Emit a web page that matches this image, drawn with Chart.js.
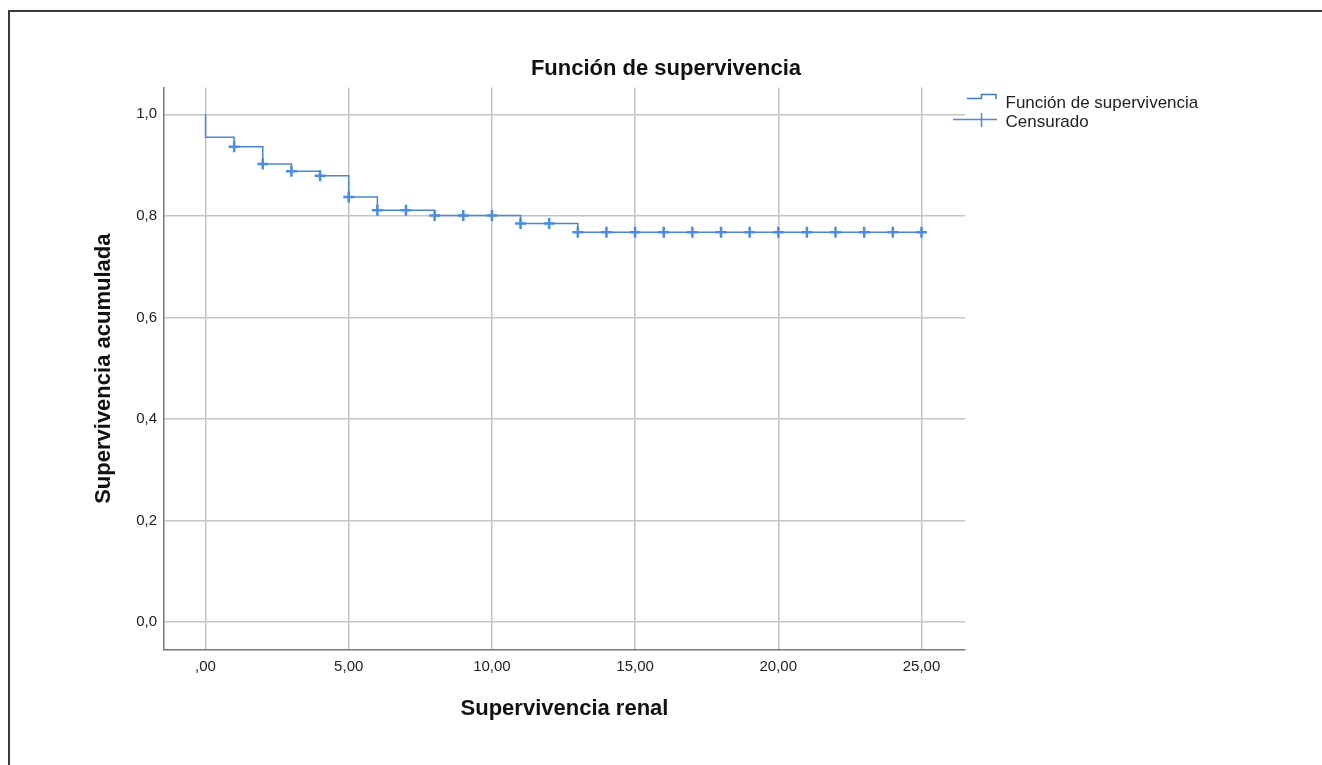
<!DOCTYPE html>
<html>
<head>
<meta charset="utf-8">
<title>Función de supervivencia</title>
<script src="https://cdn.jsdelivr.net/npm/chart.js@4.4.1/dist/chart.umd.min.js"></script>
<style>
  html, body { margin: 0; padding: 0; background: #fff; overflow: hidden; }
  .wrap { position: relative; width: 1322px; height: 765px; }
  .frame { position: absolute; left: 8px; top: 10px; width: 1400px; height: 800px;
           border-left: 2px solid #3a3a3a; border-top: 2px solid #3a3a3a; pointer-events: none; }
</style>
</head>
<body>
<div class="wrap">
  <canvas id="km"></canvas>
  <div class="frame"></div>
</div>
<script>
// Kaplan-Meier steps (time, cumulative survival)
const survTimes = [0, 0, 1, 2, 3, 4, 5, 6, 8, 11, 13, 25];
const survValues = [1.0, 0.955, 0.936, 0.902, 0.888, 0.879, 0.837, 0.811, 0.801, 0.785, 0.768, 0.768];

// censored cases
const censorTimes = [1, 2, 3, 4, 5, 6, 7, 8, 9, 10, 11, 12, 13, 14, 15, 16, 17, 18, 19, 20, 21, 22, 23, 24, 25];
const censorValues = [0.936, 0.902, 0.888, 0.879, 0.837, 0.811, 0.811, 0.801, 0.801, 0.801, 0.785, 0.785,
  0.768, 0.768, 0.768, 0.768, 0.768, 0.768, 0.768, 0.768, 0.768, 0.768, 0.768, 0.768, 0.768];

const xTicks = [0, 5, 10, 15, 20, 25];
const xTickLabels = [',00', '5,00', '10,00', '15,00', '20,00', '25,00'];
const yTicks = [0, 0.2, 0.4, 0.6, 0.8, 1.0];
const yTickLabels = ['0,0', '0,2', '0,4', '0,6', '0,8', '1,0'];

const FONT = "'Liberation Sans', Arial, sans-serif";
const lineColor = '#4a86d0';
const crossColor = '#4a8de0';

// small legend glyphs
let makeIcon = (draw) => {
  const c = document.createElement('canvas');
  c.width = 44;
  c.height = 24;
  draw(c.getContext('2d'));
  return c;
};

const stepIcon = makeIcon(g => {
  g.strokeStyle = '#3f78bf';
  g.lineWidth = 1.5;
  g.beginPath();
  g.moveTo(14, 7.5);
  g.lineTo(28.5, 7.5);
  g.lineTo(28.5, 3.5);
  g.lineTo(43, 3.5);
  g.lineTo(43, 8);
  g.stroke();
});

const crossIcon = makeIcon(g => {
  g.strokeStyle = crossColor;
  g.lineWidth = 1.5;
  g.beginPath();
  g.moveTo(0, 9.5);
  g.lineTo(44, 9.5);
  g.moveTo(28.5, 3);
  g.lineTo(28.5, 17);
  g.stroke();
});

// put the legend just right of the plot area
const placeLegend = {
  id: 'placeLegend',
  afterLayout(chart) {
    const lg = chart.legend;
    const w = lg.width, h = lg.height;
    lg.left = 951;
    lg.top = 92.5;
    lg.right = lg.left + w;
    lg.bottom = lg.top + h;
  }
};

const ctx = document.getElementById('km').getContext('2d');

new Chart(ctx, {
  type: 'scatter',
  data: {
    datasets: [{
      label: 'Censurado',
      data: censorTimes.map((t, i) => ({ x: t, y: censorValues[i] })),
      yAxisID: 'y',
      showLine: false,
      pointStyle: 'cross',
      pointRadius: 5.5,
      pointBorderWidth: 2.5,
      pointBorderColor: crossColor,
      pointBackgroundColor: crossColor,
      pointHoverRadius: 5.5,
    }, {
      label: 'Función de supervivencia',
      data: survTimes.map((t, i) => ({ x: t, y: survValues[i] })),
      yAxisID: 'y',
      showLine: true,
      stepped: 'before',
      borderColor: lineColor,
      borderWidth: 1.5,
      pointRadius: 0,
      pointHoverRadius: 0,
      fill: false,
    }]
  },
  options: {
    responsive: true,
    maintainAspectRatio: false,
    animation: false,
    layout: { padding: { left: 10, right: 0, top: 0, bottom: 39 } },
    plugins: {
      title: {
        display: true,
        text: 'Función de supervivencia',
        color: '#111',
        font: { family: FONT, size: 22, weight: 'bold' },
        padding: { top: 56, bottom: 5 },
      },
      legend: {
        position: 'chartArea',
        align: 'start',
        onClick: null,
        labels: {
          usePointStyle: true,
          pointStyleWidth: 44,
          padding: 2,
          color: '#222',
          font: { family: FONT, size: 17 },
          generateLabels: () => [
            { text: 'Función de supervivencia', pointStyle: stepIcon, datasetIndex: 1, hidden: false,
              lineWidth: 0, fillStyle: 'rgba(0,0,0,0)', strokeStyle: 'rgba(0,0,0,0)', fontColor: '#222' },
            { text: 'Censurado', pointStyle: crossIcon, datasetIndex: 0, hidden: false,
              lineWidth: 0, fillStyle: 'rgba(0,0,0,0)', strokeStyle: 'rgba(0,0,0,0)', fontColor: '#222' },
          ],
        },
      },
      tooltip: { enabled: false },
    },
    scales: {
      x: {
        type: 'linear',
        position: 'bottom',
        min: -1.45,
        max: 26.52,
        afterBuildTicks: s => { s.ticks = xTicks.map(v => ({ value: v })); },
        afterFit: s => { s.height = 76; },
        ticks: {
          callback: (v, i) => xTickLabels[i],
          color: '#222',
          font: { family: FONT, size: 15 },
          padding: 8,
          autoSkip: false,
          maxRotation: 0,
        },
        grid: { color: '#c4c4c4', lineWidth: 1.5, drawTicks: false },
        border: { display: true, color: '#7a7a7a', width: 1.5 },
        title: {
          display: true,
          text: 'Supervivencia renal',
          color: '#111',
          font: { family: FONT, size: 22, weight: 'bold' },
          padding: { top: 4, bottom: 4 },
        },
      },
      y: {
        type: 'linear',
        position: 'left',
        min: -0.0551,
        max: 1.0531,
        afterBuildTicks: s => { s.ticks = yTicks.map(v => ({ value: v })); },
        afterFit: s => { s.width = 154; },
        ticks: {
          callback: (v, i) => yTickLabels[i],
          color: '#222',
          font: { family: FONT, size: 15 },
          padding: 7,
        },
        grid: { color: '#c4c4c4', lineWidth: 1.5, drawTicks: false },
        border: { display: true, color: '#7a7a7a', width: 1.5 },
        title: {
          display: true,
          text: 'Supervivencia acumulada',
          color: '#111',
          font: { family: FONT, size: 22, weight: 'bold' },
          padding: { top: 81, bottom: 4 },
        },
      },
      // empty strip on the right that keeps the plot narrow
      yR: {
        type: 'linear',
        position: 'right',
        display: true,
        grid: { display: false },
        ticks: { display: false },
        border: { display: false },
        afterFit: s => { s.width = 357; },
      },
    },
  },
  plugins: [placeLegend],
});
</script>
</body>
</html>
